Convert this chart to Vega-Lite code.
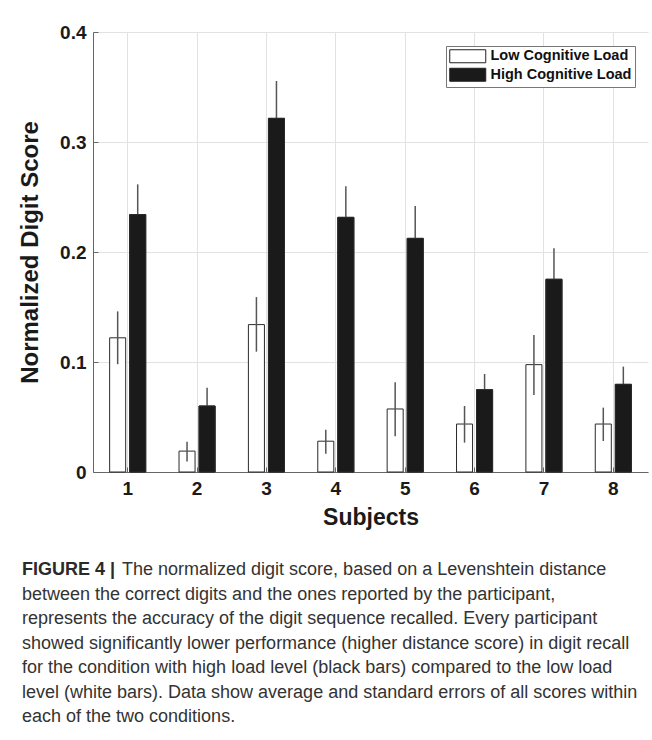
{
  "$schema": "https://vega.github.io/schema/vega-lite/v6.json",
  "autosize": {"type": "none"},
  "width": 555,
  "height": 440,
  "padding": {"left": 93, "top": 32, "right": 4, "bottom": 268},
  "background": "white",
  "config": {
    "font": "Liberation Sans",
    "view": {"stroke": null},
    "axis": {
      "domainColor": "#666",
      "tickColor": "#666",
      "gridColor": "#e2e2e2",
      "labelFont": "Liberation Sans",
      "labelFontWeight": "bold",
      "labelFontSize": 19,
      "labelColor": "#1a1a1a",
      "titleFont": "Liberation Sans",
      "titleFontWeight": "bold",
      "titleFontSize": 23,
      "titleColor": "#1a1a1a"
    }
  },
  "title": {
    "text": "FIGURE 4 |",
    "orient": "bottom",
    "anchor": "start",
    "frame": "group",
    "dx": -71,
    "offset": 32,
    "font": "Liberation Sans",
    "fontSize": 18,
    "fontWeight": "bold",
    "color": "#2a2a2a",
    "subtitle": [
      "\u200b\u00a0\u00a0\u00a0\u00a0\u00a0\u00a0\u00a0\u00a0\u00a0\u00a0\u00a0\u00a0\u00a0\u00a0\u00a0\u00a0\u00a0\u00a0\u00a0\u00a0The normalized digit score, based on a Levenshtein distance",
      "between the correct digits and the ones reported by the participant,",
      "represents the accuracy of the digit sequence recalled. Every participant",
      "showed significantly lower performance (higher distance score) in digit recall",
      "for the condition with high load level (black bars) compared to the low load",
      "level (white bars). Data show average and standard errors of all scores within",
      "each of the two conditions."
    ],
    "subtitleFont": "Liberation Sans",
    "subtitleFontSize": 18,
    "subtitleFontWeight": "normal",
    "subtitleColor": "#333",
    "subtitleLineHeight": 24.5,
    "subtitlePadding": -18
  },
  "data": {
    "values": [
      {"subject": "1", "load": "Low Cognitive Load", "value": 0.122, "lo": 0.098, "hi": 0.146},
      {"subject": "1", "load": "High Cognitive Load", "value": 0.234, "lo": 0.2065, "hi": 0.2615},
      {"subject": "2", "load": "Low Cognitive Load", "value": 0.019, "lo": 0.0095, "hi": 0.0276},
      {"subject": "2", "load": "High Cognitive Load", "value": 0.060, "lo": 0.044, "hi": 0.0767},
      {"subject": "3", "load": "Low Cognitive Load", "value": 0.134, "lo": 0.1094, "hi": 0.159},
      {"subject": "3", "load": "High Cognitive Load", "value": 0.3215, "lo": 0.2875, "hi": 0.3555},
      {"subject": "4", "load": "Low Cognitive Load", "value": 0.028, "lo": 0.0167, "hi": 0.0385},
      {"subject": "4", "load": "High Cognitive Load", "value": 0.2315, "lo": 0.2033, "hi": 0.2597},
      {"subject": "5", "load": "Low Cognitive Load", "value": 0.0573, "lo": 0.0324, "hi": 0.0815},
      {"subject": "5", "load": "High Cognitive Load", "value": 0.2124, "lo": 0.183, "hi": 0.2418},
      {"subject": "6", "load": "Low Cognitive Load", "value": 0.0436, "lo": 0.0267, "hi": 0.060},
      {"subject": "6", "load": "High Cognitive Load", "value": 0.0748, "lo": 0.0605, "hi": 0.0891},
      {"subject": "7", "load": "Low Cognitive Load", "value": 0.0976, "lo": 0.070, "hi": 0.1245},
      {"subject": "7", "load": "High Cognitive Load", "value": 0.1752, "lo": 0.147, "hi": 0.2033},
      {"subject": "8", "load": "Low Cognitive Load", "value": 0.0436, "lo": 0.0282, "hi": 0.0585},
      {"subject": "8", "load": "High Cognitive Load", "value": 0.0797, "lo": 0.0636, "hi": 0.0958}
    ]
  },
  "encoding": {
    "x": {
      "field": "subject",
      "type": "nominal",
      "sort": ["1", "2", "3", "4", "5", "6", "7", "8"],
      "scale": {"paddingInner": 0.48, "paddingOuter": 0.24},
      "axis": {
        "title": "Subjects",
        "labelAngle": 0,
        "grid": true,
        "tickSize": -5,
        "labelPadding": 12,
        "titlePadding": 8
      }
    },
    "xOffset": {
      "field": "load",
      "type": "nominal",
      "sort": ["Low Cognitive Load", "High Cognitive Load"],
      "scale": {"paddingInner": 0.2}
    }
  },
  "layer": [
    {
      "mark": {"type": "bar", "stroke": "#2a2a2a", "strokeWidth": 1},
      "encoding": {
        "y": {
          "field": "value",
          "type": "quantitative",
          "scale": {"domain": [0, 0.4], "nice": false},
          "axis": {
            "title": "Normalized Digit Score",
            "titleFontSize": 24,
            "values": [0, 0.1, 0.2, 0.3, 0.4],
            "format": "~g",
            "grid": true,
            "tickSize": -5,
            "labelPadding": 12,
            "titlePadding": 17
          }
        },
        "fill": {
          "field": "load",
          "type": "nominal",
          "sort": ["Low Cognitive Load", "High Cognitive Load"],
          "scale": {"domain": ["Low Cognitive Load", "High Cognitive Load"], "range": ["white", "#1a1a1a"]},
          "legend": {
            "title": null,
            "orient": "none",
            "legendX": 353,
            "legendY": 14,
            "strokeColor": "#777",
            "fillColor": "white",
            "padding": 3,
            "symbolType": "M-1,-1H4.54V1H-1Z",
            "symbolSize": 169,
            "symbolStrokeColor": "#222",
            "symbolStrokeWidth": 1,
            "symbolOpacity": 1,
            "labelFont": "Liberation Sans",
            "labelFontWeight": "bold",
            "labelFontSize": 14.5,
            "labelColor": "#111",
            "labelOffset": 27,
            "rowPadding": 0.5
          }
        }
      }
    },
    {
      "mark": {"type": "rule", "color": "#555", "strokeWidth": 1.5},
      "encoding": {
        "y": {"field": "lo", "type": "quantitative"},
        "y2": {"field": "hi"}
      }
    },
    {
      "transform": [{"filter": "datum.load === 'High Cognitive Load'"}],
      "mark": {"type": "bar", "stroke": "#2a2a2a", "strokeWidth": 1, "fill": "#1a1a1a"},
      "encoding": {
        "y": {"field": "value", "type": "quantitative"}
      }
    }
  ]
}
